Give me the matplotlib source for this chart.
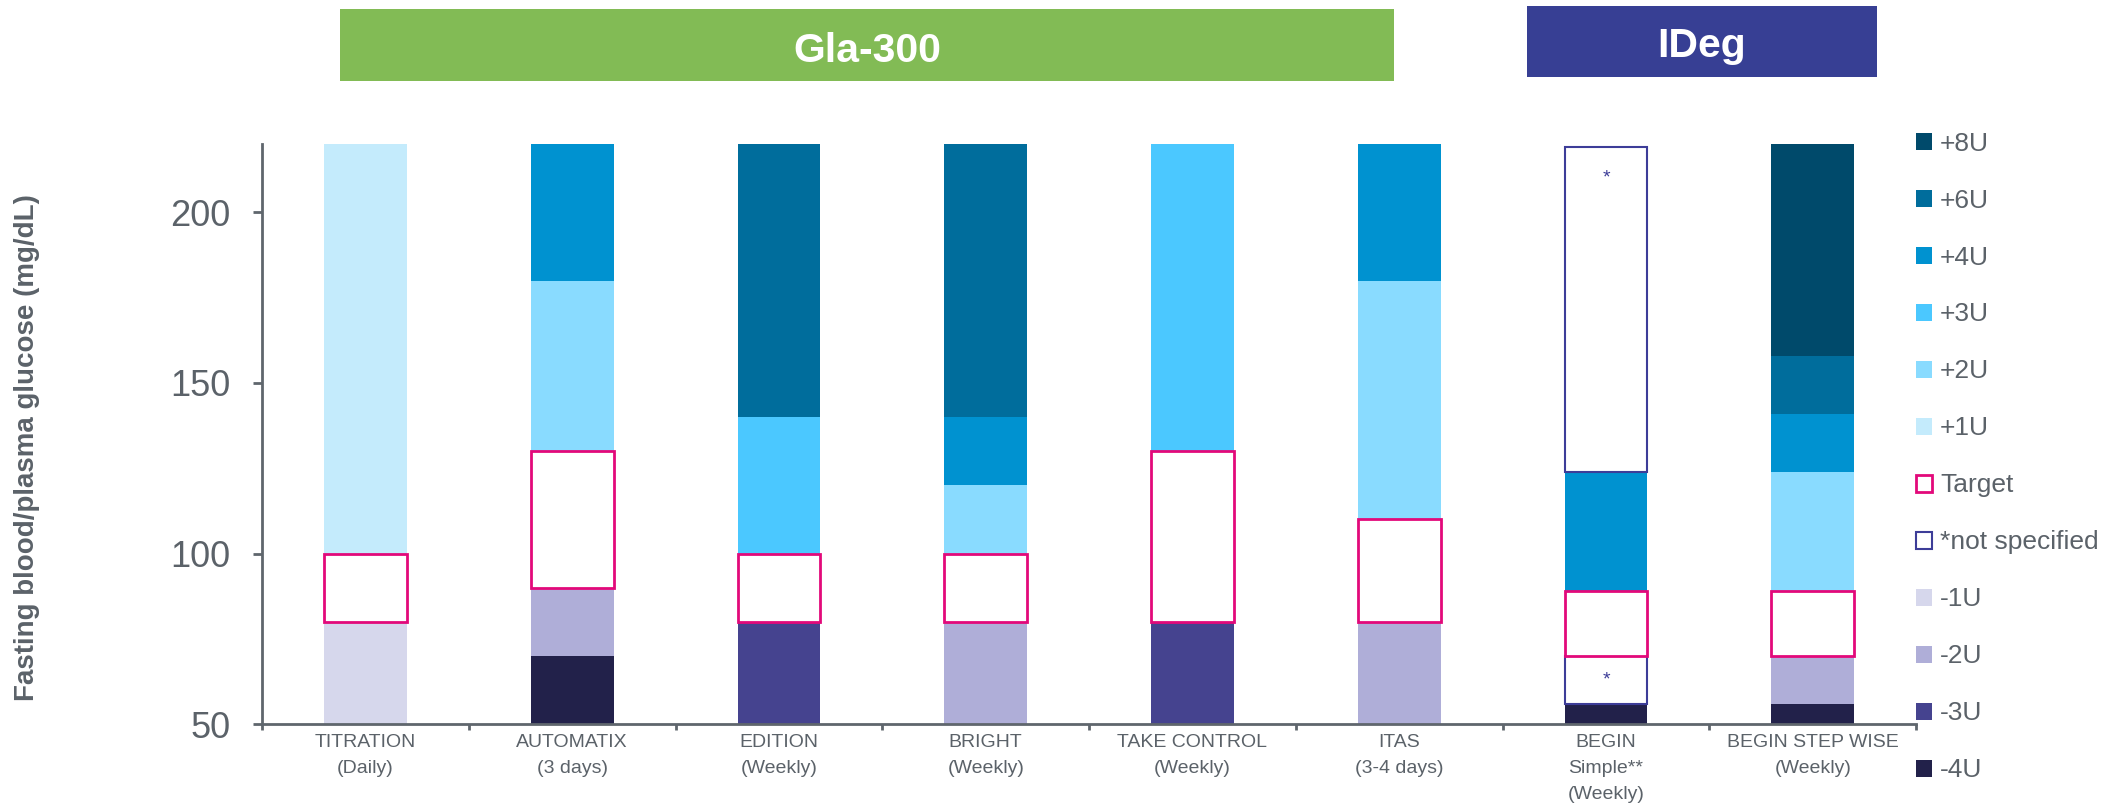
import matplotlib
matplotlib.use('Agg')
import matplotlib.pyplot as plt
from matplotlib.patches import Patch, Rectangle

plt.rcParams['font.family'] = ['Liberation Sans', 'DejaVu Sans']

# Study names shown under the bars
studies = ['TITRATION\n(Daily)', 'AUTOMATIX\n(3 days)', 'EDITION\n(Weekly)',
           'BRIGHT\n(Weekly)', 'TAKE CONTROL\n(Weekly)', 'ITAS\n(3-4 days)',
           'BEGIN\nSimple**\n(Weekly)', 'BEGIN STEP WISE\n(Weekly)']

# Dose step per glucose band: (dose, lower mg/dL, upper mg/dL)
titration = [('-1U', 50, 80), ('Target', 80, 100), ('+1U', 100, 220)]
automatix = [('-4U', 50, 70), ('-2U', 70, 90), ('Target', 90, 130),
             ('+2U', 130, 180), ('+4U', 180, 220)]
edition = [('-3U', 50, 80), ('Target', 80, 100), ('+3U', 100, 140), ('+6U', 140, 220)]
bright = [('-2U', 50, 80), ('Target', 80, 100), ('+2U', 100, 120),
          ('+4U', 120, 140), ('+6U', 140, 220)]
take_control = [('-3U', 50, 80), ('Target', 80, 130), ('+3U', 130, 220)]
itas = [('-2U', 50, 80), ('Target', 80, 110), ('+2U', 110, 180), ('+4U', 180, 220)]
begin_simple = [('-4U', 50, 56), ('*not specified', 56, 70), ('Target', 70, 89),
                ('+4U', 89, 124), ('*not specified', 124, 219)]
begin_step = [('-4U', 50, 56), ('-2U', 56, 70), ('Target', 70, 89), ('+2U', 89, 124),
              ('+4U', 124, 141), ('+6U', 141, 158), ('+8U', 158, 220)]

bands = [titration, automatix, edition, bright, take_control, itas, begin_simple, begin_step]

legend_order = ['+8U', '+6U', '+4U', '+3U', '+2U', '+1U', 'Target', '*not specified',
                '-1U', '-2U', '-3U', '-4U']

colors = {
    '+8U': '#004a6b', '+6U': '#006d9c', '+4U': '#0092d0', '+3U': '#4bc8ff',
    '+2U': '#89dbff', '+1U': '#c4ebfc', '-1U': '#d6d7ec', '-2U': '#afaed8',
    '-3U': '#45438f', '-4U': '#22214a',
}
target_edge = '#e2097a'
unspec_edge = '#3d3d98'
grey = '#5b6269'

fig = plt.figure(figsize=(21.08, 8.07), dpi=100)
ax = fig.add_axes([0.1243, 0.1025, 0.7847, 0.7191])

bar_w = 0.4
for i, study in enumerate(bands):
    for dose, lo, hi in study:
        if dose == 'Target':
            ax.bar(i, hi - lo, bottom=lo, width=bar_w, color='white',
                   edgecolor=target_edge, linewidth=2, zorder=3)
        elif dose == '*not specified':
            ax.bar(i, hi - lo, bottom=lo, width=bar_w, color='white',
                   edgecolor=unspec_edge, linewidth=1.5, zorder=2)
            ax.text(i, hi - 9 if hi > 200 else (lo + hi) / 2, '*', ha='center',
                    va='center', fontsize=14, color=unspec_edge, zorder=4)
        else:
            ax.bar(i, hi - lo, bottom=lo, width=bar_w, color=colors[dose],
                   linewidth=0, zorder=1)

ax.set_xlim(-0.5, len(studies) - 0.5)
ax.set_ylim(50, 220)
ax.set_yticks([50, 100, 150, 200])
# boundary ticks between studies; names written as text below the axis
ax.set_xticks([i - 0.5 for i in range(len(studies) + 1)])
ax.set_xticklabels([])
ax.tick_params(axis='x', length=4.5, width=2, color='#5f666d')
ax.tick_params(axis='y', length=6.5, width=2, color='#5f666d', labelsize=26,
               labelcolor=grey, pad=16)
for i, name in enumerate(studies):
    ax.text(i, -0.0167, name, transform=ax.get_xaxis_transform(), ha='center',
            va='top', fontsize=14, color=grey, linespacing=1.7)

for side in ['top', 'right']:
    ax.spines[side].set_visible(False)
for side in ['left', 'bottom']:
    ax.spines[side].set_color('#5f666d')
    ax.spines[side].set_linewidth(2)

fig.text(0.0128, 0.446, 'Fasting blood/plasma glucose (mg/dL)', rotation=90,
         ha='center', va='center', fontsize=20, fontweight='bold', color=grey)

# Insulin group headers
fig.add_artist(Rectangle((0.1613, 0.8996), 0.5, 0.0892, transform=fig.transFigure,
                         facecolor='#82bb55', edgecolor='none'))
fig.text(0.4113, 0.923, 'Gla-300', ha='center', va='baseline', fontsize=29.5,
         fontweight='bold', color='white')
fig.add_artist(Rectangle((0.7244, 0.9046), 0.166, 0.088, transform=fig.transFigure,
                         facecolor='#373f94', edgecolor='none'))
fig.text(0.8074, 0.929, 'IDeg', ha='center', va='baseline', fontsize=29.5,
         fontweight='bold', color='white')

handles = []
for name in legend_order:
    if name == 'Target':
        handles.append(Patch(facecolor='white', edgecolor=target_edge, linewidth=2, label=name))
    elif name == '*not specified':
        handles.append(Patch(facecolor='white', edgecolor=unspec_edge, linewidth=1.5, label=name))
    else:
        handles.append(Patch(facecolor=colors[name], edgecolor='none', label=name))

leg = fig.legend(handles=handles, loc='upper left', bbox_to_anchor=(0.909, 0.837),
                 frameon=False, fontsize=19, labelspacing=1.25, handlelength=0.61,
                 handleheight=0.61, handletextpad=0.3, borderpad=0, borderaxespad=0)
for t in leg.get_texts():
    t.set_color(grey)

fig.savefig('out.png', dpi=100)
